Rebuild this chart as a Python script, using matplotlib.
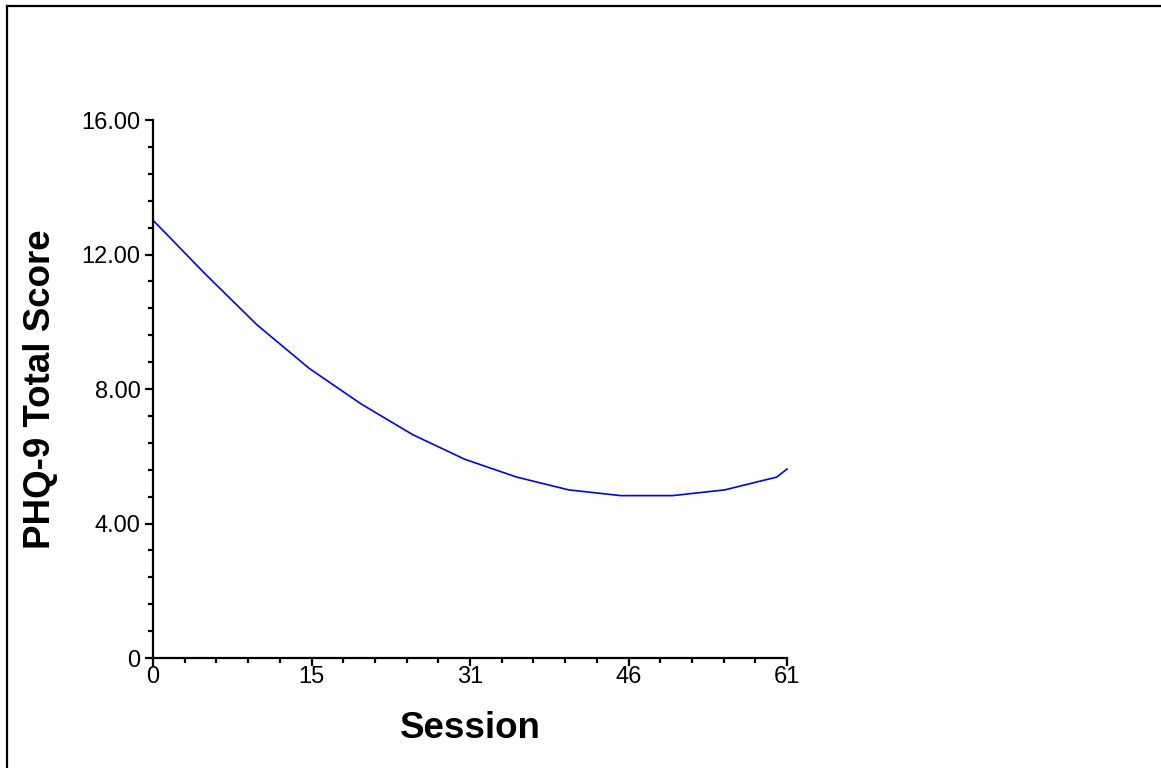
import matplotlib.pyplot as plt
from matplotlib.lines import Line2D
from matplotlib.ticker import MultipleLocator

plt.rcParams['font.family'] = ['Liberation Sans', 'DejaVu Sans']

# Fitted PHQ-9 trajectory by session
sessions = [0, 5, 10, 15, 20, 25, 30, 35, 40, 45, 50, 55, 60, 61]
scores = [13.02, 11.43, 9.91, 8.62, 7.56, 6.64, 5.91, 5.38, 5.00, 4.83, 4.83, 5.00, 5.38, 5.62]

x_ticks = [0, 15.25, 30.5, 45.75, 61]
x_labels = ['0', '15', '31', '46', '61']
y_ticks = [0, 4, 8, 12, 16]
y_labels = ['0', '4.00', '8.00', '12.00', '16.00']

fig = plt.figure(figsize=(11.61, 7.68), dpi=100)
ax = fig.add_axes([0.1318, 0.1432, 0.5461, 0.7005])

ax.plot(sessions, scores, color='#0000ff', lw=1.2, clip_on=False)

ax.set_xlim(0, 61)
ax.set_ylim(0, 16)
ax.set_xticks(x_ticks)
ax.set_xticklabels(x_labels)
ax.set_yticks(y_ticks)
ax.set_yticklabels(y_labels)
ax.xaxis.set_minor_locator(MultipleLocator(61 / 20))
ax.yaxis.set_minor_locator(MultipleLocator(0.8))

for side in ['top', 'right']:
    ax.spines[side].set_visible(False)
for side in ['left', 'bottom']:
    ax.spines[side].set_linewidth(1.6)

ax.tick_params(which='major', direction='out', length=6, width=1.6,
               labelsize=17, colors='black')
ax.tick_params(which='minor', direction='out', length=3.5, width=1.6)
ax.tick_params(axis='x', which='major', pad=0)
ax.tick_params(axis='y', which='major', pad=3)

fig.text(470 / 1161, 1 - 738 / 768, 'Session', fontsize=26.5, fontweight='bold',
         ha='center', va='baseline')
fig.text(50 / 1161, 1 - 389 / 768, 'PHQ-9 Total Score', fontsize=26.5,
         fontweight='bold', rotation=90, rotation_mode='anchor',
         ha='center', va='baseline')

# outer frame: top and left edges only
fig.add_artist(Line2D([7 / 1161, 7 / 1161], [0, 1 - 6 / 768],
                      transform=fig.transFigure, color='black', lw=1.6))
fig.add_artist(Line2D([7 / 1161, 1], [1 - 6 / 768, 1 - 6 / 768],
                      transform=fig.transFigure, color='black', lw=1.6))

fig.savefig('out.png', dpi=100)
